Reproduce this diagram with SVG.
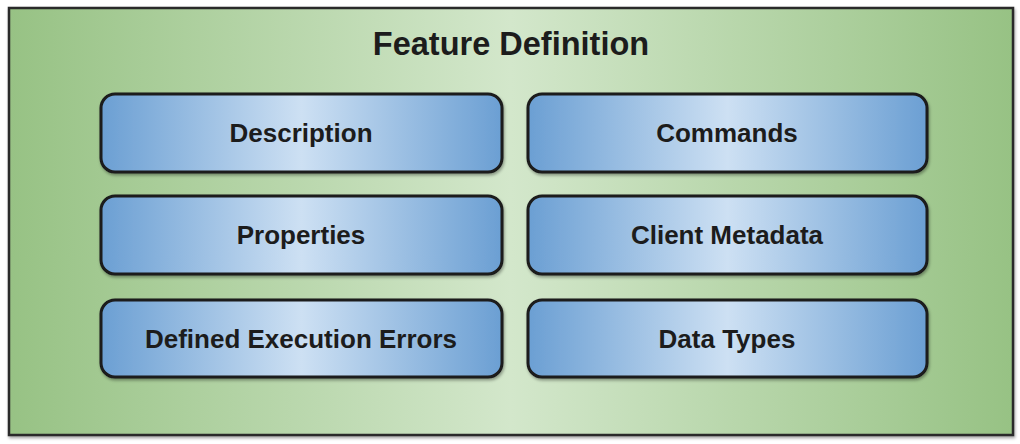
<svg xmlns="http://www.w3.org/2000/svg" width="1020" height="444" viewBox="0 0 1020 444">
  <defs>
    <linearGradient id="gGreen" x1="0" y1="0" x2="1" y2="0">
      <stop offset="0" stop-color="#97c284"/>
      <stop offset="0.5" stop-color="#d3e7cb"/>
      <stop offset="1" stop-color="#97c284"/>
    </linearGradient>
    <linearGradient id="gBlue" x1="0" y1="0" x2="1" y2="0">
      <stop offset="0" stop-color="#6b9fd3"/>
      <stop offset="0.5" stop-color="#cde0f3"/>
      <stop offset="1" stop-color="#6b9fd3"/>
    </linearGradient>
    <filter id="shadow" x="-5%" y="-10%" width="110%" height="125%">
      <feDropShadow dx="1" dy="2" stdDeviation="1.5" flood-color="#000" flood-opacity="0.35"/>
    </filter>
  </defs>
  <style>
    .outer { fill: url(#gGreen); stroke: #2b2b2b; stroke-width: 2.5; }
    .box { fill: url(#gBlue); stroke: #1a1a1a; stroke-width: 3; }
    .title { font-family: "Liberation Sans", Arial, sans-serif; font-weight: bold; font-size: 32.5px; fill: #1c1c1c; text-anchor: middle; }
    .label { font-family: "Liberation Sans", Arial, sans-serif; font-weight: bold; font-size: 26px; fill: #1c1c1c; text-anchor: middle; }
  </style>
  <g id="feature-definition">
    <rect class="outer" x="9" y="8" width="1004" height="427" filter="url(#shadow)"/>
    <text class="title" x="511" y="55">Feature Definition</text>
  </g>
  <g id="description">
    <rect class="box" x="101" y="94" width="401" height="78" rx="14" filter="url(#shadow)"/>
    <text class="label" x="301" y="142">Description</text>
  </g>
  <g id="commands">
    <rect class="box" x="528" y="94" width="399" height="78" rx="14" filter="url(#shadow)"/>
    <text class="label" x="727" y="142">Commands</text>
  </g>
  <g id="properties">
    <rect class="box" x="101" y="196" width="401" height="78" rx="14" filter="url(#shadow)"/>
    <text class="label" x="301" y="244">Properties</text>
  </g>
  <g id="client-metadata">
    <rect class="box" x="528" y="196" width="399" height="78" rx="14" filter="url(#shadow)"/>
    <text class="label" x="727" y="244">Client Metadata</text>
  </g>
  <g id="defined-execution-errors">
    <rect class="box" x="101" y="300" width="401" height="77" rx="14" filter="url(#shadow)"/>
    <text class="label" x="301" y="348">Defined Execution Errors</text>
  </g>
  <g id="data-types">
    <rect class="box" x="528" y="300" width="399" height="77" rx="14" filter="url(#shadow)"/>
    <text class="label" x="727" y="348">Data Types</text>
  </g>
  <g id="connectors"></g>
</svg>
